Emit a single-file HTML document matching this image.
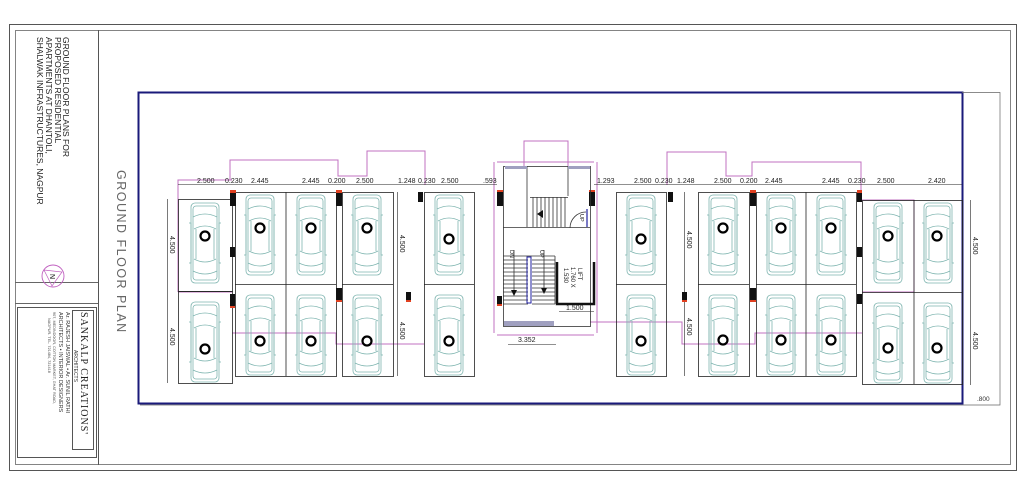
<!DOCTYPE html>
<html><head><meta charset="utf-8"><style>
html,body{margin:0;padding:0;background:#fff;}
svg{display:block;font-family:"Liberation Sans",sans-serif;}
</style></head><body>
<svg width="1024" height="492" viewBox="0 0 1024 492" xmlns="http://www.w3.org/2000/svg">
<defs>
<g id="car" fill="none" stroke="#7fb5b0" stroke-width="0.8">
<rect x="0" y="0" width="28" height="80" rx="4"/>
<rect x="2" y="3" width="24" height="74" rx="3"/>
<path d="M2 14 Q14 8 26 14 M3 26 Q14 20 25 26 M3 56 Q14 62 25 56 M2 68 Q14 74 26 68"/>
<path d="M-2 20 L0 20 L0 60 L-2 60 M30 20 L28 20 L28 60 L30 60"/>
<line x1="5" y1="26" x2="5" y2="56"/><line x1="23" y1="26" x2="23" y2="56"/>
</g>
</defs>
<rect x="0" y="0" width="1024" height="492" fill="#fff"/>
<rect x="9.5" y="24.5" width="1007" height="446" fill="none" stroke="#555" stroke-width="1"/>
<rect x="15.5" y="30.5" width="995" height="434" fill="none" stroke="#666" stroke-width="0.8"/>
<line x1="98.5" y1="30" x2="98.5" y2="465" stroke="#555"/>
<line x1="15" y1="282.5" x2="98" y2="282.5" stroke="#666"/>
<line x1="15" y1="303.5" x2="98" y2="303.5" stroke="#666"/>
<g fill="#222" font-size="8.5">
<text transform="translate(63,37) rotate(90)">GROUND FLOOR PLANS FOR</text>
<text transform="translate(55,37) rotate(90)">PROPOSED RESIDENTIAL</text>
<text transform="translate(46,37) rotate(90)">APARTMENTS AT DHANTOLI,</text>
<text transform="translate(37,37) rotate(90)">SHALWAK INFRASTRUCTURES, NAGPUR</text>
</g>
<text transform="translate(117,170) rotate(90)" font-size="12.5" fill="#666" letter-spacing="1.5">GROUND  FLOOR  PLAN</text>
<circle cx="53" cy="276" r="11" fill="none" stroke="#c060c0" stroke-width="0.9"/>
<path d="M44 270 L62 272 L52 286 Z" fill="none" stroke="#c060c0" stroke-width="0.7"/>
<text transform="translate(50,274) rotate(90)" font-size="7" fill="#000">N</text>
<rect x="17.5" y="307.5" width="79" height="150" fill="none" stroke="#555"/>
<rect x="72.5" y="310.5" width="21" height="139" fill="none" stroke="#555"/>
<text transform="translate(81,312) rotate(90)" font-family="Liberation Serif,serif" font-size="10" fill="#222" letter-spacing="1">SANKALP  CREATIONS'</text>
<text transform="translate(74,350) rotate(90)" font-size="5" fill="#333">ARCHITECTS</text>
<g fill="#333" font-size="5.5">
<text transform="translate(66,312) rotate(90)">Ar.  RAJESH  JAISWAL  •  Ar.  SUNIL  RATHI</text>
<text transform="translate(59,312) rotate(90)">ARCHITECTS  •  INTERIOR  DESIGNERS</text>
</g>
<g fill="#444" font-size="3.8">
<text transform="translate(53,312) rotate(90)">907, MEDINDOOR, COTTON MARKET, GHAT ROAD,</text>
<text transform="translate(48,318) rotate(90)">NAGPUR. TEL. 721484, 721418</text>
</g>
<rect x="138.5" y="92.5" width="824" height="311" fill="none" stroke="#1a1a7a" stroke-width="2"/>
<path d="M962 92.5 H1000 V405 H962 M140 405 H1000" fill="none" stroke="#666" stroke-width="0.7"/>
<text x="977" y="401" font-size="6.5" fill="#333">.800</text>
<g fill="none" stroke="#c070c0" stroke-width="1">
<path d="M178 292 V180 H232"/>
<path d="M178 292 H232"/>
<path d="M230 180 V160 H338 V176 H367 V151 H425 V185"/>
<path d="M232 333 H336 V344 H424"/>
<path d="M524 166 V141 H568 V166"/>
<path d="M497 162 H594 M494 162 V333 M597 162 V333"/>
<path d="M590 322 H682 V344 H755 V333 H862"/>
<path d="M667 185 V152 H726 V176 H752 V162 H861 V200 H914 V292 H862"/>
<path d="M497 335 H594"/>
</g>
<g stroke="#222" stroke-width="0.6">
<line x1="178" y1="184.5" x2="497" y2="184.5"/>
<line x1="594" y1="184.5" x2="962" y2="184.5"/>
<line x1="397.5" y1="192" x2="397.5" y2="376"/>
<line x1="684.5" y1="192" x2="684.5" y2="376"/>
<line x1="167.5" y1="199" x2="167.5" y2="383"/>
<line x1="970.5" y1="200" x2="970.5" y2="385"/>
<line x1="508" y1="344.5" x2="556" y2="344.5"/>
<line x1="559" y1="311.5" x2="594" y2="311.5"/>
</g>
<g font-size="7" fill="#222">
<text x="197" y="183">2.500</text><text x="225" y="183">0.230</text><text x="251" y="183">2.445</text>
<text x="302" y="183">2.445</text><text x="328" y="183">0.200</text><text x="356" y="183">2.500</text>
<text x="398" y="183">1.248</text><text x="418" y="183">0.230</text><text x="441" y="183">2.500</text>
<text x="483" y="183">.593</text><text x="597" y="183">1.293</text>
<text x="634" y="183">2.500</text><text x="655" y="183">0.230</text><text x="677" y="183">1.248</text>
<text x="714" y="183">2.500</text><text x="740" y="183">0.200</text><text x="765" y="183">2.445</text>
<text x="822" y="183">2.445</text><text x="848" y="183">0.230</text><text x="877" y="183">2.500</text>
<text x="928" y="183">2.420</text>
<text x="518" y="342">3.352</text><text x="566" y="310">1.500</text>
</g>
<g font-size="7" fill="#222">
<text transform="translate(400,235) rotate(90)">4.500</text>
<text transform="translate(400,322) rotate(90)">4.500</text>
<text transform="translate(687,231) rotate(90)">4.500</text>
<text transform="translate(687,318) rotate(90)">4.500</text>
<text transform="translate(170,236) rotate(90)">4.500</text>
<text transform="translate(170,328) rotate(90)">4.500</text>
<text transform="translate(973,237) rotate(90)">4.500</text>
<text transform="translate(973,332) rotate(90)">4.500</text>
</g>
<g fill="none" stroke="#222" stroke-width="0.8">
<rect x="178.5" y="199.5" width="54" height="92"/><rect x="178.5" y="291.5" width="54" height="92"/>
<rect x="235.5" y="192.5" width="101" height="184"/><line x1="286" y1="192" x2="286" y2="376"/><line x1="235" y1="284.5" x2="336" y2="284.5"/>
<rect x="342.5" y="192.5" width="51" height="184"/><line x1="342" y1="284.5" x2="393" y2="284.5"/>
<rect x="424.5" y="192.5" width="50" height="184"/><line x1="424" y1="284.5" x2="474" y2="284.5"/>
<rect x="616.5" y="192.5" width="50" height="184"/><line x1="616" y1="284.5" x2="666" y2="284.5"/>
<rect x="698.5" y="192.5" width="51" height="184"/><line x1="698" y1="284.5" x2="749" y2="284.5"/>
<rect x="756.5" y="192.5" width="100" height="184"/><line x1="806" y1="192" x2="806" y2="376"/><line x1="756" y1="284.5" x2="856" y2="284.5"/>
<rect x="862.5" y="200.5" width="100" height="184"/><line x1="914" y1="200" x2="914" y2="384"/><line x1="862" y1="292.5" x2="962" y2="292.5"/>
</g>
<g>
<use href="#car" x="191" y="203"/><use href="#car" x="191" y="302"/>
<use href="#car" x="246" y="195"/><use href="#car" x="297" y="195"/><use href="#car" x="353" y="195"/>
<use href="#car" x="246" y="295"/><use href="#car" x="297" y="295"/><use href="#car" x="353" y="295"/>
<use href="#car" x="435" y="195"/><use href="#car" x="435" y="295"/>
<use href="#car" x="627" y="195"/><use href="#car" x="627" y="295"/>
<use href="#car" x="709" y="195"/><use href="#car" x="767" y="195"/><use href="#car" x="817" y="195"/>
<use href="#car" x="709" y="295"/><use href="#car" x="767" y="295"/><use href="#car" x="817" y="295"/>
<use href="#car" x="874" y="203"/><use href="#car" x="924" y="203"/>
<use href="#car" x="874" y="303"/><use href="#car" x="924" y="303"/>
</g>
<g fill="#fff" stroke="#000" stroke-width="2.2">
<circle cx="205" cy="236" r="4.5"/><circle cx="205" cy="349" r="4.5"/>
<circle cx="260" cy="228" r="4.5"/><circle cx="311" cy="228" r="4.5"/><circle cx="367" cy="228" r="4.5"/>
<circle cx="260" cy="341" r="4.5"/><circle cx="311" cy="341" r="4.5"/><circle cx="367" cy="341" r="4.5"/>
<circle cx="449" cy="239" r="4.5"/><circle cx="449" cy="341" r="4.5"/>
<circle cx="641" cy="239" r="4.5"/><circle cx="641" cy="341" r="4.5"/>
<circle cx="723" cy="228" r="4.5"/><circle cx="781" cy="228" r="4.5"/><circle cx="831" cy="228" r="4.5"/>
<circle cx="723" cy="340" r="4.5"/><circle cx="781" cy="340" r="4.5"/><circle cx="831" cy="340" r="4.5"/>
<circle cx="888" cy="236" r="4.5"/><circle cx="937" cy="236" r="4.5"/>
<circle cx="888" cy="348" r="4.5"/><circle cx="937" cy="348" r="4.5"/>
</g>
<g fill="#111">
<rect x="230" y="192" width="6" height="14"/><rect x="230" y="247" width="5" height="10"/><rect x="230" y="294" width="5" height="14"/>
<rect x="336" y="192" width="6" height="14"/><rect x="336" y="288" width="6" height="14"/>
<rect x="418" y="192" width="5" height="10"/><rect x="406" y="292" width="5" height="10"/>
<rect x="497" y="192" width="6" height="14"/><rect x="589" y="192" width="6" height="14"/><rect x="497" y="296" width="5" height="10"/>
<rect x="668" y="192" width="5" height="10"/><rect x="682" y="292" width="5" height="10"/>
<rect x="750" y="192" width="6" height="14"/><rect x="750" y="288" width="6" height="14"/>
<rect x="857" y="192" width="5" height="10"/><rect x="857" y="247" width="5" height="10"/><rect x="857" y="294" width="5" height="10"/>
</g>
<g fill="#e04020">
<rect x="230" y="190" width="6" height="3"/><rect x="336" y="190" width="6" height="3"/><rect x="750" y="190" width="6" height="3"/>
<rect x="857" y="190" width="5" height="3"/><rect x="230" y="306" width="5" height="2"/><rect x="336" y="300" width="6" height="2"/>
<rect x="750" y="300" width="6" height="2"/><rect x="406" y="300" width="5" height="2"/><rect x="682" y="300" width="5" height="2"/>
<rect x="497" y="304" width="5" height="2"/><rect x="497" y="190" width="6" height="2"/><rect x="589" y="190" width="6" height="2"/>
</g>
<g fill="none" stroke="#333" stroke-width="0.8">
<rect x="503.5" y="166.5" width="87" height="160"/>
<line x1="503" y1="227.5" x2="590" y2="227.5"/>
<line x1="527" y1="166" x2="527" y2="227"/><line x1="568" y1="166" x2="568" y2="196"/>
<path d="M533 197 V227 M537 197 V227 M541 197 V227 M545 197 V227 M549 197 V227 M553 197 V227 M557 197 V227 M561 197 V227 M565 197 V227"/>
<line x1="530" y1="197.5" x2="568" y2="197.5"/>
<path d="M503 256 H555 M503 260 H528 M503 264 H528 M503 268 H528 M503 272 H528 M503 276 H528 M503 280 H528 M503 284 H528 M503 288 H528 M503 292 H528 M503 296 H528 M503 300 H528 M503 304 H528"/>
<path d="M532 260 H555 M532 264 H555 M532 268 H555 M532 272 H555 M532 276 H555 M532 280 H555 M532 284 H555 M532 288 H555 M532 292 H555 M532 296 H555 M532 300 H555 M532 304 H555"/>
<line x1="555" y1="256" x2="555" y2="304"/>
<path d="M586 212 A16 16 0 0 0 570 228"/>
<line x1="514" y1="250" x2="514" y2="290"/><line x1="544" y1="250" x2="544" y2="290"/>
</g>
<rect x="527" y="257" width="4" height="46" fill="none" stroke="#2020a0" stroke-width="1"/>
<line x1="587" y1="209" x2="587" y2="227" stroke="#2020a0" stroke-width="1.2"/>
<rect x="504" y="321" width="50" height="5" fill="#a0a0c0"/>
<rect x="505" y="166" width="22" height="3" fill="#a0a0c0"/><rect x="568" y="166" width="22" height="3" fill="#a0a0c0"/>
<path d="M537 214 L543 210 L543 218 Z M511 290 L517 290 L514 296 Z M541 288 L547 288 L544 294 Z" fill="#111"/>
<path d="M557 262 V304 H594 V262" fill="none" stroke="#111" stroke-width="2.5"/>
<g fill="#222" font-size="5.5">
<text transform="translate(580,214) rotate(90)">UP</text>
<text transform="translate(510,250) rotate(90)">DN</text>
<text transform="translate(540,250) rotate(90)">UP</text>
<text transform="translate(578,268) rotate(90)" font-size="6">LIFT</text>
<text transform="translate(571,267) rotate(90)" font-size="6">1.760  X</text>
<text transform="translate(564,268) rotate(90)" font-size="6">1.530</text>
</g>
</svg>
</body></html>
